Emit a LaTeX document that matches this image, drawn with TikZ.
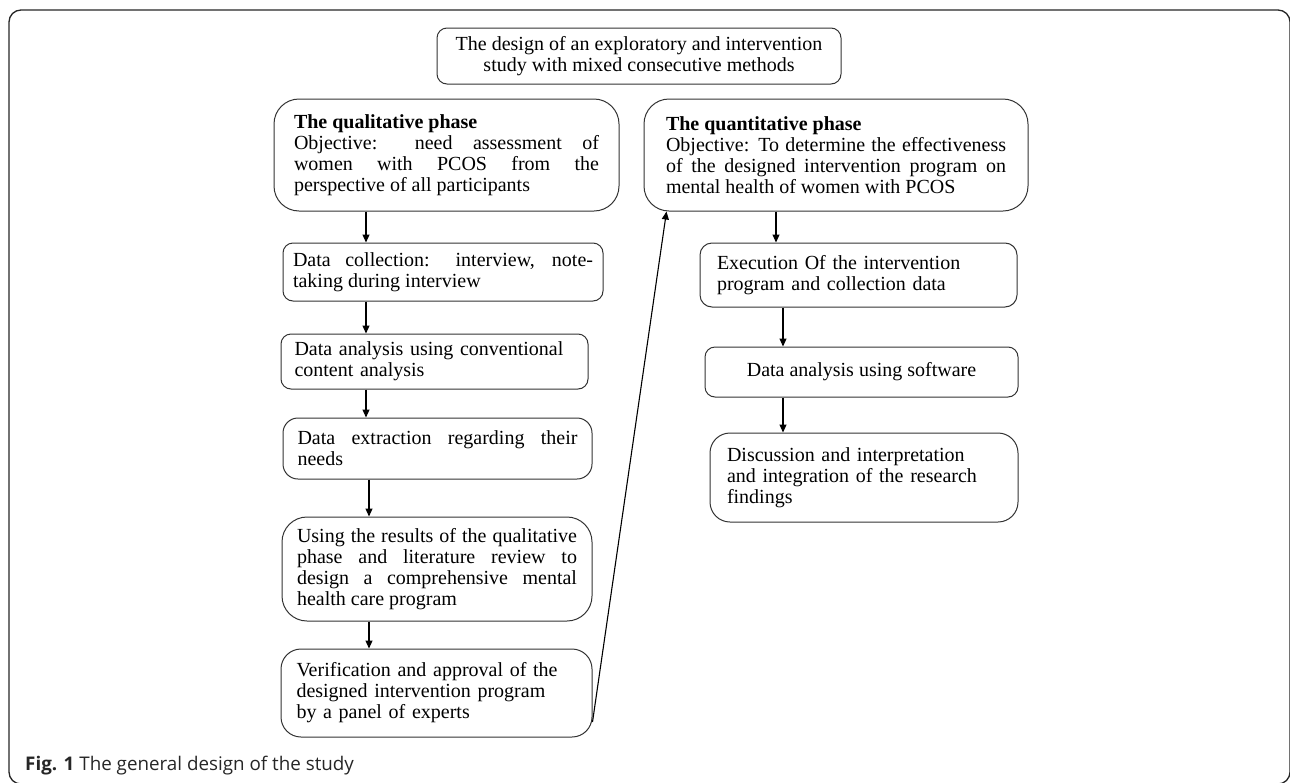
\documentclass[tikz,border=0pt]{standalone}
\usepackage{fontspec}
\setmainfont{Liberation Serif}
\newfontfamily\capfont{Open Sans}
\usetikzlibrary{arrows.meta, positioning}
\hbadness=10000
\tolerance=10000

\begin{document}
\begin{tikzpicture}[x=1pt, y=-1pt, >={Triangle[length=8pt,width=7pt]},
      every node/.style={font=\fontsize{20}{21}\selectfont},
      block/.style={draw=black!80, line width=1pt, rounded corners=10pt, inner sep=0pt, align=left},
      phase/.style={block, rounded corners=25pt, align=justify},
      link/.style={->, line width=1.1pt}]
  \useasboundingbox (0,0) rectangle (1290,782);
  \draw[black!85, line width=1.3pt, rounded corners=12pt] (9,10) rectangle (1290,784);

  \node[block, align=center, minimum width=404pt, minimum height=56pt] (design) at (639,56)
    {The design of an exploratory and intervention\\study with mixed consecutive methods};

  % qualitative side
  \node[phase, minimum width=345pt, minimum height=112pt, text width=305pt] (qual) at (446.5,155)
    {\textbf{The qualitative phase}\\Objective: need assessment of\linebreak women with PCOS from the\linebreak perspective of all participants};
  \node[block, align=justify, minimum width=320pt, minimum height=58pt, text width=300pt] (collect) at (443,272)
    {Data collection: interview, note-\linebreak taking during interview};
  \node[block, minimum width=307pt, minimum height=55pt, text width=280pt] (conv) at (434.5,361.5)
    {Data analysis using conventional\\content analysis};
  \node[block, rounded corners=15pt, align=justify, minimum width=309pt, minimum height=61pt, text width=280pt] (extract) at (437.5,448.5)
    {Data extraction regarding their\linebreak needs};
  \node[phase, minimum width=310pt, minimum height=104pt, text width=280pt] (using) at (437,569)
    {Using the results of the qualitative\linebreak phase and literature review to\linebreak design a comprehensive mental\linebreak health care program};
  \node[block, rounded corners=20pt, minimum width=311pt, minimum height=88pt, text width=280pt] (verify) at (436.5,693)
    {Verification and approval of the\\designed intervention program\\by a panel of experts};

  % quantitative side
  \node[phase, minimum width=384pt, minimum height=112pt, text width=340pt] (quant) at (836,155)
    {\textbf{The quantitative phase}\\Objective: To determine the effectiveness\linebreak of the designed intervention program on\linebreak mental health of women with PCOS};
  \node[block, rounded corners=12pt, minimum width=317pt, minimum height=64pt, text width=283pt] (exec) at (858.5,275)
    {Execution Of the intervention\\program and collection data};
  \node[block, align=center, minimum width=313pt, minimum height=50pt] (software) at (861.5,372)
    {Data analysis using software};
  \node[block, rounded corners=20pt, minimum width=308pt, minimum height=89pt, text width=274pt] (discuss) at (864,477.5)
    {Discussion and interpretation\\and integration of the research\\findings};

  \coordinate (lx) at (366,0);
  \coordinate (lx2) at (369,0);
  \coordinate (rx) at (776,0);
  \coordinate (rx2) at (783,0);

  \draw[link] (qual.south -| lx) -- (collect.north -| lx);
  \draw[link] (collect.south -| lx) -- (conv.north -| lx);
  \draw[link] (conv.south -| lx) -- (extract.north -| lx);
  \draw[link] (extract.south -| lx2) -- (using.north -| lx2);
  \draw[link] (using.south -| lx2) -- (verify.north -| lx2);
  \draw[link] ([yshift=-29pt]verify.east) -- ([xshift=23pt]quant.south west);
  \draw[link] (quant.south -| rx) -- (exec.north -| rx);
  \draw[link] (exec.south -| rx2) -- (software.north -| rx2);
  \draw[link] (software.south -| rx2) -- (discuss.north -| rx2);

  \node[font=\capfont\fontsize{18.8}{22}\selectfont, text=black!85, anchor=base west, inner sep=0pt] (caption) at (25,770)
    {\textbf{Fig. 1} The general design of the study};
\end{tikzpicture}
\end{document}
